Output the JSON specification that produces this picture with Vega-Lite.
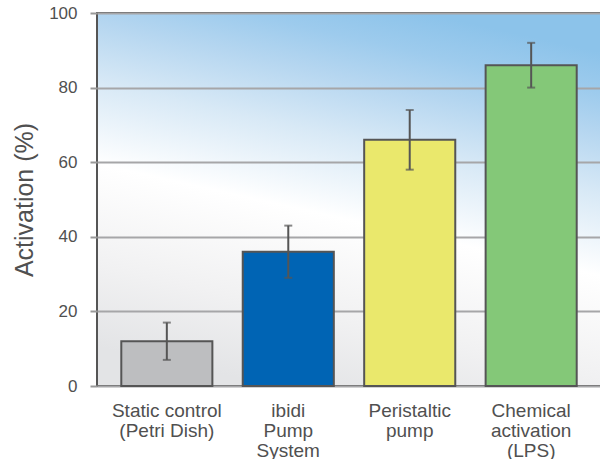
{
  "$schema": "https://vega.github.io/schema/vega-lite/v6.json",
  "autosize": {"type": "none"},
  "width": 504,
  "height": 373,
  "padding": {"left": 97, "top": 13, "right": 0, "bottom": 73},
  "background": "#ffffff",
  "config": {
    "font": "Liberation Sans",
    "view": {
      "stroke": "#555555",
      "strokeWidth": 2,
      "fill": {
        "gradient": "linear",
        "x1": 0.65, "y1": 0, "x2": 0.35, "y2": 1,
        "stops": [
          {"offset": 0, "color": "#8cc3ea"},
          {"offset": 0.1, "color": "#9dcbed"},
          {"offset": 0.2, "color": "#b5d6f0"},
          {"offset": 0.35, "color": "#d8e9f6"},
          {"offset": 0.55, "color": "#ffffff"},
          {"offset": 0.8, "color": "#f1f1f2"},
          {"offset": 1, "color": "#e3e4e6"}
        ]
      }
    }
  },
  "data": {
    "values": [
      {"category": "Static control\n(Petri Dish)", "activation": 12, "low": 7, "high": 17, "color": "#bdbec0"},
      {"category": "ibidi\nPump\nSystem", "activation": 36, "low": 29, "high": 43, "color": "#0064b4"},
      {"category": "Peristaltic\npump", "activation": 66, "low": 58, "high": 74, "color": "#eae86c"},
      {"category": "Chemical\nactivation\n(LPS)", "activation": 86, "low": 80, "high": 92, "color": "#84c878"}
    ]
  },
  "encoding": {
    "x": {
      "field": "category",
      "type": "nominal",
      "sort": null,
      "scale": {"paddingInner": 0.25, "paddingOuter": 0.2},
      "axis": {
        "title": null,
        "labelAngle": 0,
        "labelExpr": "split(datum.label, '\\n')",
        "labelFontSize": 19,
        "labelLineHeight": 20,
        "labelColor": "#505050",
        "labelPadding": 15,
        "labelBaseline": "top",
        "ticks": false,
        "domain": false,
        "grid": false
      }
    }
  },
  "layer": [
    {
      "mark": {"type": "bar", "stroke": "#555555", "strokeWidth": 2},
      "encoding": {
        "y": {
          "field": "activation",
          "type": "quantitative",
          "scale": {"domain": [0, 100]},
          "axis": {
            "title": "Activation (%)",
            "titleFontSize": 25,
            "titleFontWeight": "normal",
            "titleColor": "#505050",
            "titlePadding": 11,
            "values": [0, 20, 40, 60, 80, 100],
            "labelFontSize": 17,
            "labelColor": "#505050",
            "labelPadding": 13,
            "tickSize": 7,
            "tickColor": "#999999",
            "tickWidth": 2,
            "domain": false,
            "gridColor": "#a6a6a8",
            "gridWidth": 2,
            "gridOpacity": 1
          }
        },
        "fill": {"field": "color", "type": "nominal", "scale": null}
      }
    },
    {
      "mark": {"type": "rule", "stroke": "#555555", "strokeWidth": 2},
      "encoding": {
        "y": {"field": "low", "type": "quantitative"},
        "y2": {"field": "high"}
      }
    },
    {
      "mark": {"type": "tick", "color": "#555555", "thickness": 2, "size": 8, "orient": "horizontal"},
      "encoding": {"y": {"field": "low", "type": "quantitative"}}
    },
    {
      "mark": {"type": "tick", "color": "#555555", "thickness": 2, "size": 8, "orient": "horizontal"},
      "encoding": {"y": {"field": "high", "type": "quantitative"}}
    }
  ]
}
